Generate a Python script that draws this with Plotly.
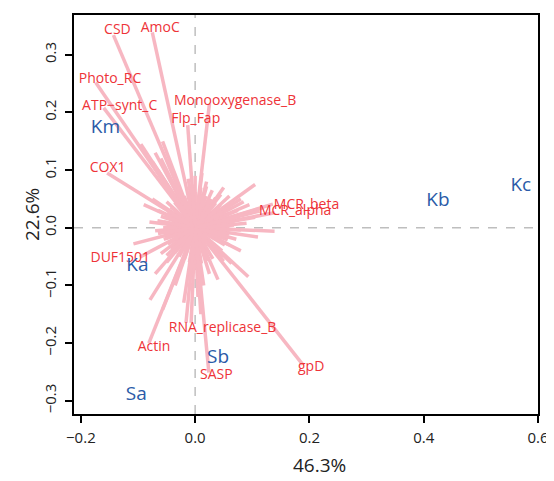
import plotly.graph_objects as go

# Labelled gene loadings (segment end points) and their label positions
gene_names = ["CSD", "AmoC", "Photo_RC", "ATP−synt_C", "Monooxygenase_B", "Flp_Fap",
              "COX1", "MCR_beta", "MCR_alpha", "DUF1501", "RNA_replicase_B", "Actin",
              "SASP", "gpD"]
gene_x = [-0.143, -0.075, -0.174, -0.160, 0.025, -0.013, -0.154, 0.136, 0.113,
          -0.097, -0.016, -0.081, 0.024, 0.188]
gene_y = [0.334, 0.339, 0.252, 0.208, 0.215, 0.178, 0.095, 0.041, 0.029,
          -0.051, -0.165, -0.200, -0.251, -0.237]
label_x = [-0.136, -0.061, -0.149, -0.132, 0.070, 0.001, -0.153, 0.195, 0.175,
           -0.131, 0.048, -0.072, 0.037, 0.203]
label_y = [0.343, 0.345, 0.257, 0.211, 0.219, 0.187, 0.102, 0.038, 0.028,
           -0.053, -0.174, -0.207, -0.257, -0.242]

# Unlabelled gene loadings (segment end points)
other_x = [0.139, 0.120, 0.105, 0.139, 0.110, 0.090, 0.080, 0.070, 0.095, 0.060, 0.075, 0.085,
           0.105, 0.036, 0.060, 0.045, 0.080, 0.030, 0.050,
           0.020, 0.010, 0.000, -0.005, 0.012, -0.012,
           -0.095, -0.085, -0.075, -0.065, -0.090, -0.070, -0.060, -0.057,
           -0.108, -0.080, -0.070, -0.060, -0.090, -0.075, -0.055, -0.065, -0.050,
           -0.060, -0.050, -0.070, -0.079, -0.057,
           -0.035, -0.020, -0.007, 0.005, 0.015, 0.010, -0.010, 0.000,
           0.025, 0.040, 0.064, 0.093, 0.050, 0.060, 0.080,
           0.060, 0.055, 0.050, 0.048, 0.042, 0.036, 0.028, 0.019, 0.010, 0.000,
           -0.010, -0.019, -0.028, -0.036, -0.043, -0.048, -0.052, -0.055, -0.056,
           -0.055, -0.052, -0.048, -0.043, -0.036, -0.028, -0.019, -0.010, 0.000,
           0.011, 0.021, 0.031, 0.040, 0.047, 0.052, 0.057, 0.060,
           0.068, -0.066, 0.005, -0.040, 0.045, -0.050, 0.050, 0.020, -0.065, 0.072]
other_y = [0.026, 0.035, 0.018, -0.006, -0.016, 0.008, -0.004, 0.012, 0.040, 0.025, 0.030, 0.045,
           0.075, 0.052, 0.055, 0.040, 0.050, 0.065, 0.070,
           0.080, 0.070, 0.090, 0.075, 0.095, 0.085,
           0.145, 0.125, 0.115, 0.100, 0.135, 0.130, 0.120, 0.150,
           -0.028, 0.010, -0.005, 0.020, 0.040, 0.050, -0.020, 0.030, 0.045,
           -0.045, -0.060, -0.080, -0.125, -0.142,
           -0.100, -0.130, -0.165, -0.120, -0.100, -0.150, -0.080, -0.070,
           -0.080, -0.090, -0.062, -0.085, -0.050, -0.030, -0.040,
           0.000, 0.010, 0.018, 0.028, 0.035, 0.043, 0.050, 0.055, 0.060, 0.062,
           0.058, 0.055, 0.050, 0.044, 0.036, 0.028, 0.019, 0.010, 0.000,
           -0.010, -0.019, -0.028, -0.036, -0.044, -0.050, -0.055, -0.060, -0.064,
           -0.062, -0.058, -0.054, -0.048, -0.040, -0.030, -0.021, -0.011,
           0.005, 0.012, -0.075, 0.060, 0.058, -0.048, -0.058, 0.072, -0.010, -0.020]

# Sample scores
sample_names = ["Km", "Ka", "Sb", "Sa", "Kb", "Kc"]
sample_x = [-0.157, -0.101, 0.040, -0.103, 0.425, 0.570]
sample_y = [0.173, -0.067, -0.227, -0.291, 0.046, 0.072]

x_ticks = [-0.2, 0.0, 0.2, 0.4, 0.6]
y_ticks = [-0.3, -0.2, -0.1, 0.0, 0.1, 0.2, 0.3]
x_title = "46.3%"
y_title = "22.6%"

PINK = "#F7B7C2"
RED = "#EE3338"
BLUE = "#2B5BA8"
FONT = "Open Sans"

seg_x, seg_y = [], []
for x, y in zip(other_x + gene_x, other_y + gene_y):
    seg_x += [0, x, None]
    seg_y += [0, y, None]

fig = go.Figure()
fig.add_trace(go.Scatter(x=seg_x, y=seg_y, mode="lines",
                         line=dict(color=PINK, width=3.5), hoverinfo="skip",
                         showlegend=False))
fig.add_trace(go.Scatter(x=label_x, y=label_y, mode="text", text=gene_names,
                         textfont=dict(color=RED, size=14, family=FONT),
                         textposition="middle center", showlegend=False))
fig.add_trace(go.Scatter(x=sample_x, y=sample_y, mode="text", text=sample_names,
                         textfont=dict(color=BLUE, size=19, family=FONT),
                         textposition="middle center", showlegend=False))

for s in [dict(x0=0, x1=0, y0=0, y1=1, xref="x", yref="paper"),
          dict(x0=0, x1=1, y0=0, y1=0, xref="paper", yref="y")]:
    fig.add_shape(type="line", layer="below",
                  line=dict(color="#BEBEBE", width=1.5, dash="dash"), **s)

axis_common = dict(showgrid=False, zeroline=False, showline=True, mirror=True,
                   linecolor="black", linewidth=1.5, ticks="outside", ticklen=7,
                   tickwidth=1.5, tickcolor="black",
                   tickfont=dict(family=FONT, size=15, color="#222222"))

# The page body adds an 8 px offset, so the figure is sized 8 px smaller
fig.update_layout(
    width=546, height=473,
    margin=dict(l=66, r=11, t=5, b=67),
    plot_bgcolor="white", paper_bgcolor="white",
    xaxis=dict(range=[-0.212, 0.600], tickvals=x_ticks,
               ticktext=[f"{v:.1f}".replace("-", "−") for v in x_ticks],
               ticklabelstandoff=2, **axis_common),
    yaxis=dict(range=[-0.323, 0.369], tickvals=y_ticks,
               ticktext=[f"{v:.1f}".replace("-", "−") for v in y_ticks],
               tickangle=-90, ticklabelstandoff=3, **axis_common),
    annotations=[
        dict(text=x_title, xref="paper", yref="paper", x=0.529, y=-0.128,
             showarrow=False, font=dict(family=FONT, size=19, color="#222222"),
             xanchor="center", yanchor="middle"),
        dict(text=y_title, xref="paper", yref="paper", x=-0.0915, y=0.5,
             showarrow=False, textangle=-90,
             font=dict(family=FONT, size=19, color="#222222"),
             xanchor="center", yanchor="middle"),
    ],
)

fig.write_html("out.html")
